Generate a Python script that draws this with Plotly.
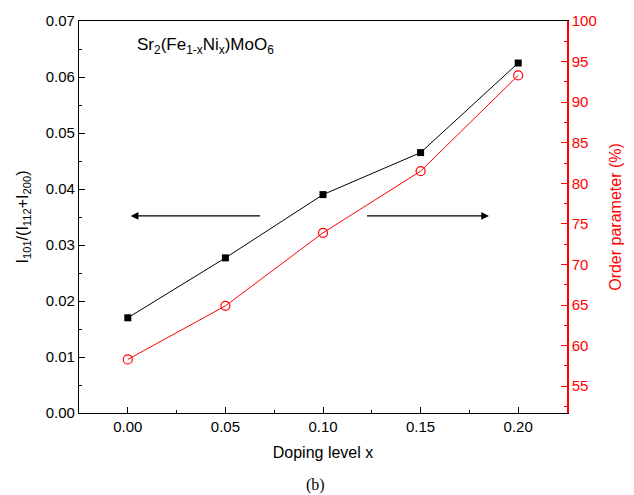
import plotly.graph_objects as go

doping = [0.00, 0.05, 0.10, 0.15, 0.20]
intensity_ratio = [0.0170, 0.0277, 0.0390, 0.0465, 0.0625]
order_param = [58.3, 64.9, 73.9, 81.5, 93.3]

FONT = "Liberation Sans, Arial, sans-serif"
RED = "#ff0000"

fig = go.Figure()
fig.add_trace(go.Scatter(
    x=doping, y=intensity_ratio, mode="lines+markers",
    line=dict(color="black", width=1),
    marker=dict(symbol="square", size=7, color="black"),
    yaxis="y", showlegend=False))
fig.add_trace(go.Scatter(
    x=doping, y=order_param, mode="lines+markers",
    line=dict(color=RED, width=1),
    marker=dict(symbol="circle-open", size=9, color=RED, line=dict(width=1.2)),
    yaxis="y2", showlegend=False))

fig.update_layout(
    width=634, height=495,
    margin=dict(l=79, r=65, t=17, b=82),
    plot_bgcolor="white", paper_bgcolor="white",
    font=dict(family=FONT, size=15, color="black"),
    xaxis=dict(
        range=[-0.025, 0.225], dtick=0.05, tick0=0, tickformat=".2f",
        ticks="inside", ticklen=6, tickwidth=1, tickcolor="black",
        minor=dict(ticks="inside", ticklen=3, dtick=0.025, tickcolor="black"),
        showline=True, linecolor="black", linewidth=1.2, mirror=True,
        showgrid=False, zeroline=False,
        tickfont=dict(size=15),
        title=dict(text="Doping level x", font=dict(size=16), standoff=12),
    ),
    yaxis=dict(
        range=[0, 0.07], dtick=0.01, tickformat=".2f",
        ticks="inside", ticklen=6, tickwidth=1, tickcolor="black",
        minor=dict(ticks="inside", ticklen=3, dtick=0.005, tickcolor="black"),
        showline=True, linecolor="black", linewidth=1.2,
        showgrid=False, zeroline=False,
        tickfont=dict(size=15),
        title=dict(text="I<sub>101</sub>/(I<sub>112</sub>+I<sub>200</sub>)", font=dict(size=16), standoff=13),
    ),
    yaxis2=dict(
        overlaying="y", side="right", anchor="x",
        range=[51.7, 100], dtick=5, tick0=0,
        ticks="inside", ticklen=6, tickwidth=1, tickcolor=RED,
        minor=dict(ticks="inside", ticklen=3, dtick=2.5, tickcolor=RED),
        showline=True, linecolor=RED, linewidth=1.5,
        showgrid=False, zeroline=False,
        tickfont=dict(size=15, color=RED),
        title=dict(text="Order parameter (%)", font=dict(size=16, color=RED), standoff=14),
    ),
)

fig.add_annotation(
    x=0.0015, y=0.0352, ax=0.0685, ay=0.0352, xref="x", yref="y",
    axref="x", ayref="y", text="", showarrow=True,
    arrowhead=2, arrowsize=1.1, arrowwidth=1.4, arrowcolor="black")
fig.add_annotation(
    x=0.185, y=0.0352, ax=0.1218, ay=0.0352, xref="x", yref="y",
    axref="x", ayref="y", text="", showarrow=True,
    arrowhead=2, arrowsize=1.1, arrowwidth=1.4, arrowcolor="black")

fig.add_annotation(
    x=0.0035, y=0.0655, xref="x", yref="y", xanchor="left", yanchor="middle",
    text="Sr<sub>2</sub>(Fe<sub>1-x</sub>Ni<sub>x</sub>)MoO<sub>6</sub>",
    showarrow=False, font=dict(size=17, color="black"))

fig.add_annotation(
    x=0.485, y=-0.184, xref="paper", yref="paper", xanchor="center", yanchor="middle",
    text="(b)", showarrow=False,
    font=dict(family="Liberation Serif, Times New Roman, serif", size=16, color="black"))

fig.write_html("out.html")
